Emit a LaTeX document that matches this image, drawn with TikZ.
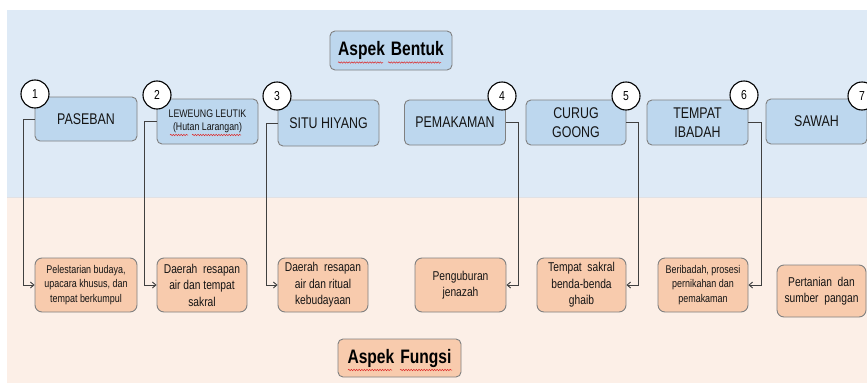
\documentclass[tikz,border=0pt]{standalone}
\usepackage{fontspec}
\setmainfont{Liberation Sans}[FakeStretch=0.8]
\usetikzlibrary{decorations.pathmorphing,arrows.meta}
\definecolor{bgblue}{RGB}{222,234,246}
\definecolor{bgpeach}{RGB}{252,239,231}
\definecolor{boxblue}{RGB}{189,215,238}
\definecolor{boxpeach}{RGB}{248,203,173}
\definecolor{boxborder}{RGB}{128,128,128}
\definecolor{linegray}{RGB}{64,64,64}
\definecolor{txt}{RGB}{20,20,20}
\definecolor{sepgray}{RGB}{225,225,228}
\definecolor{wavy}{RGB}{220,40,40}
\begin{document}
\begin{tikzpicture}[x=1pt,y=-1pt,
  topbox/.style={draw=boxborder, fill=boxblue, rounded corners=5pt, line width=0.9pt,
    inner sep=1pt, align=center, text=txt, font=\fontsize{15.5}{19}\selectfont},
  botbox/.style={draw=boxborder, fill=boxpeach, rounded corners=7pt, line width=0.9pt,
    inner sep=1pt, align=center, text=txt, minimum height=54pt},
  titlebox/.style={draw=boxborder, rounded corners=5pt, line width=0.9pt,
    inner sep=1pt, align=center, text=black, font=\fontsize{19.5}{22}\selectfont\bfseries},
  num/.style={circle, draw=black, fill=white, line width=1.1pt, minimum size=28pt,
    inner sep=0pt, font=\fontsize{13}{14}\selectfont},
  conn/.style={draw=linegray, line width=0.9pt, -{Straight Barb[length=3.5pt,width=6pt]}},
  squiggle/.style={draw=wavy, line width=0.5pt, decorate,
    decoration={snake, amplitude=0.7pt, segment length=2.6pt}},
  smallf/.style={font=\fontsize{11.2}{14.5}\selectfont},
  midf/.style={font=\fontsize{12.8}{16.5}\selectfont}
]
\useasboundingbox (0,0) rectangle (867,383);
\clip (0,0) rectangle (867,383);
\fill[bgblue] (7,10) rectangle (867,197);
\fill[bgpeach] (7,197) rectangle (867,383);
\draw[sepgray, line width=1.6pt] (7,197.5) -- (867,197.5);

% titles
\node[titlebox, fill=boxblue, minimum width=122pt, minimum height=39pt] (tb) at (391,50.5) {Aspek\hspace{6pt}Bentuk};
\node[titlebox, fill=boxpeach, minimum width=123pt, minimum height=38pt] (tf) at (399.5,358) {Aspek\hspace{6pt}Fungsi};

% top boxes
\node[topbox, minimum width=102pt, minimum height=44pt] (t1) at (86,119) {PASEBAN};
\node[topbox, minimum width=101pt, minimum height=45pt, font=\fontsize{11}{13.5}\selectfont] (t2) at (207.5,121.5) {LEWEUNG LEUTIK\\(Hutan Larangan)};
\node[topbox, minimum width=101pt, minimum height=46pt] (t3) at (328.5,123) {SITU HIYANG};
\node[topbox, minimum width=101pt, minimum height=45pt] (t4) at (455,122.5) {PEMAKAMAN};
\node[topbox, minimum width=100pt, minimum height=45pt] (t5) at (576,122.5) {CURUG\\GOONG};
\node[topbox, minimum width=101pt, minimum height=45pt] (t6) at (697.5,122.5) {TEMPAT\\IBADAH};
\node[topbox, minimum width=101pt, minimum height=45pt] (t7) at (816.5,121.5) {SAWAH};

% number circles
\node[num] (n1) at (35,94) {1};
\node[num] (n2) at (157,95) {2};
\node[num] (n3) at (277,96) {3};
\node[num] (n4) at (502,96) {4};
\node[num] (n5) at (626,96) {5};
\node[num] (n6) at (744,95) {6};
\node[num] (n7) at (862,96) {7};

% bottom boxes
\node[botbox, smallf, minimum width=102pt] (b1) at (86,285) {Pelestarian budaya,\\upacara khusus, dan\\tempat berkumpul};
\node[botbox, midf, minimum width=90pt] (b2) at (202,285) {Daerah\ \ resapan\\air dan tempat\\sakral};
\node[botbox, midf, minimum width=90pt] (b3) at (323,285) {Daerah\ \ resapan\\air dan ritual\\kebudayaan};
\node[botbox, midf, minimum width=91pt] (b4) at (460.5,285) {Penguburan\\jenazah};
\node[botbox, midf, minimum width=89pt] (b5) at (581.5,285) {Tempat\ \ sakral\\benda-benda\\ghaib};
\node[botbox, smallf, minimum width=90pt] (b6) at (703,285) {Beribadah, prosesi\\pernikahan dan\\pemakaman};
\node[botbox, midf, minimum width=89pt, minimum height=52pt] (b7) at (821.5,291) {Pertanian\ \ dan\\sumber\ \ pangan};

% connectors
\draw[conn] (t1.west) -- ++(-11,0) |- (b1.west);
\draw[conn] (t2.west) -- ++(-12,0) |- (b2.west);
\draw[conn] (t3.west) -- ++(-11,0) |- (b3.west);
\draw[conn] (t4.east) -- ++(12,0) |- (b4.east);
\draw[conn] (t5.east) -- ++(12,0) |- (b5.east);
\draw[conn] (t6.east) -- ++(13,0) |- (b6.east);

% spell-check underlines
\draw[squiggle] (338,62.5) -- (383,62.5);
\draw[squiggle] (388,62.5) -- (441,62.5);
\draw[squiggle] (348,370) -- (392,370);
\draw[squiggle] (400,370) -- (452,370);
\draw[squiggle] (170,135) -- (188,135);
\draw[squiggle] (192,135) -- (241,135);
\end{tikzpicture}
\end{document}
